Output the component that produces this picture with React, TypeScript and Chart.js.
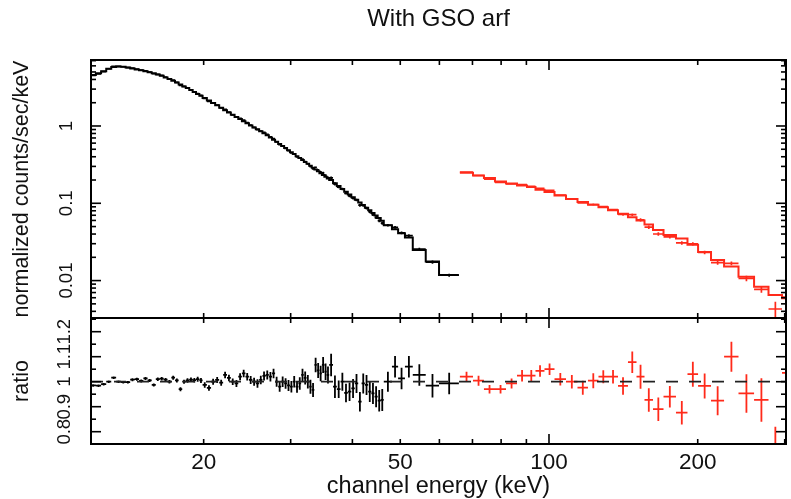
import React, { useEffect, useRef } from 'react';
import { Chart, registerables } from 'chart.js';

Chart.register(...registerables);

const FONT = '"Liberation Sans", Arial, Helvetica, sans-serif';
const INK = '#111111';
const BLACK = '#000000';
const RED = '#ff2a1a';

// ---- axes ----
const xMin = 11.83;
const xMax = 301.8;
const xTickValues = [20, 50, 100, 200];
const xTickLabels = ['20', '50', '100', '200'];

const countsMin = 0.00328;
const countsMax = 7.14;
const countsTickValues = [0.01, 0.1, 1];
const countsTickLabels = ['0.01', '0.1', '1'];

const ratioMin = 0.7508;
const ratioMax = 1.2548;
const ratioTickValues = [0.8, 0.9, 1, 1.1, 1.2];
const ratioTickLabels = ['0.8', '0.9', '1', '1.1', '1.2'];

// ---- black group (low-energy detector) : bin edges in keV ----
const blackEdges = [
  11.8, 12.1, 12.4, 12.7, 13.0, 13.3, 13.6, 13.9, 14.2, 14.5, 14.8, 15.1, 15.4, 15.7,
  16.0, 16.3, 16.6, 16.9, 17.2, 17.5, 17.8, 18.1, 18.4, 18.7, 19.0, 19.3, 19.6, 19.9,
  20.3, 20.7, 21.1, 21.5, 21.9, 22.3, 22.7, 23.1, 23.5, 23.9, 24.3, 24.7, 25.1, 25.5,
  25.9, 26.3, 26.7, 27.1, 27.5, 27.9, 28.3, 28.7, 29.1, 29.5, 29.9, 30.3, 30.7, 31.1,
  31.5, 31.9, 32.3, 32.7, 33.1, 33.5, 33.9, 34.3, 34.7, 35.1, 35.5, 35.9,
  36.55, 37.2, 37.85, 38.5, 39.15, 39.8, 40.45, 41.1, 41.75, 42.4, 43.05, 43.7, 44.35,
  45.0, 45.65, 46.3,
  48.1, 49.5, 51.1, 53.0, 56.3, 59.9, 65.7,
];
const blackModel = [
  4.57, 4.8, 5.1, 5.5, 5.8, 5.9, 5.85, 5.7, 5.55, 5.4, 5.25, 5.1, 4.95, 4.8, 4.62, 4.45,
  4.25, 4.05, 3.85, 3.65, 3.45, 3.25, 3.1, 2.92, 2.75, 2.6, 2.47,
  2.31, 2.14, 1.99, 1.85, 1.72, 1.6, 1.49, 1.395, 1.308, 1.227, 1.152, 1.083, 1.018, 0.959,
  0.905, 0.854, 0.806, 0.759, 0.71, 0.666, 0.624, 0.585, 0.551, 0.518, 0.487, 0.459, 0.433,
  0.407, 0.385, 0.363, 0.342, 0.324, 0.306, 0.289, 0.273, 0.259, 0.245, 0.232, 0.221, 0.2096,
  0.1995, 0.182, 0.167, 0.1535, 0.141, 0.13, 0.12, 0.111, 0.1026, 0.0948, 0.0877, 0.0811,
  0.075, 0.0695, 0.0644, 0.0596,
  0.052, 0.046, 0.041, 0.036, 0.0249, 0.0176, 0.0118,
];
const blackRatio = [
  0.985, 0.984, 0.99, 1.0, 1.016, 1.0, 0.998, 0.998, 1.008, 1.01, 1.003, 1.013, 1.005, 0.987,
  1.01, 1.012, 1.008, 1.0, 1.016, 1.005, 0.97, 1.0, 1.005, 1.008, 1.006, 1.01, 1.005,
  0.987, 0.975, 1.0, 1.007, 0.996, 1.027, 1.015, 1.0, 0.993, 1.02, 1.033, 1.02, 1.007, 1.0,
  0.993, 1.007, 1.023, 1.027, 1.02, 1.033, 1.0, 0.98, 1.0, 0.993, 0.985, 0.98, 1.0, 0.98,
  0.993, 1.027, 1.015, 1.0, 0.98, 0.967, 1.067, 1.045, 1.033, 1.067, 1.04, 1.027,
  1.067, 0.98, 0.97, 1.0, 0.955, 0.96, 0.973, 0.993, 0.92, 0.993, 0.987, 0.96, 0.953, 0.94,
  0.924, 0.927,
  1.0, 1.06, 1.013, 1.06, 1.027, 0.984, 0.993,
];
const blackRatioErr = [
  0.005, 0.005, 0.005, 0.005, 0.005, 0.005, 0.005, 0.005, 0.006, 0.006, 0.006, 0.006, 0.006,
  0.006, 0.007, 0.007, 0.007, 0.007, 0.008, 0.008, 0.008, 0.008, 0.009, 0.009, 0.009, 0.01, 0.01,
  0.011, 0.011, 0.012, 0.012, 0.012, 0.013, 0.013, 0.013, 0.014, 0.014, 0.015, 0.015, 0.016,
  0.016, 0.017, 0.017, 0.018, 0.018, 0.019, 0.019, 0.02, 0.02, 0.021, 0.021, 0.022, 0.023,
  0.023, 0.024, 0.025, 0.025, 0.026, 0.027, 0.028, 0.028, 0.029, 0.03, 0.031, 0.032, 0.033, 0.034,
  0.045, 0.045, 0.035, 0.036, 0.037, 0.037, 0.038, 0.038, 0.039, 0.04, 0.04, 0.041, 0.042,
  0.042, 0.043, 0.044,
  0.04, 0.043, 0.043, 0.043, 0.043, 0.047, 0.043,
];

// ---- red group (GSO) : bin edges in keV ----
const redEdges = [
  66.01, 70.17, 73.85, 77.74, 81.84, 86.15, 90.26, 93.9, 97.92, 102.6, 108.25, 114.21,
  119.92, 125.94, 131.64, 137.92, 144.49, 150.36, 156.07, 162.38, 170.53, 180.72, 190.68,
  200.33, 212.79, 226.14, 241.87, 260.07, 278.17, 296.24, 310.37,
];
const redModel = [
  0.249, 0.228, 0.212, 0.192, 0.18, 0.17, 0.162, 0.15, 0.14, 0.126, 0.114, 0.104, 0.096,
  0.089, 0.081, 0.073, 0.066, 0.06, 0.053, 0.045, 0.039, 0.035, 0.029, 0.0235, 0.0185,
  0.0152, 0.0112, 0.0083, 0.0065, 0.0059,
];
const redRatio = [
  1.02, 1.004, 0.97, 0.97, 0.993, 1.024, 1.024, 1.043, 1.05, 1.01, 1.0, 0.976, 1.004, 1.02,
  1.02, 0.983, 1.078, 1.02, 0.927, 0.89, 0.94, 0.876, 1.03, 0.983, 0.924, 1.1, 0.953, 0.927,
  0.66, 1.035,
];
const redRatioErr = [
  0.02, 0.02, 0.017, 0.017, 0.02, 0.023, 0.023, 0.023, 0.023, 0.025, 0.027, 0.028, 0.03,
  0.026, 0.027, 0.035, 0.043, 0.048, 0.047, 0.047, 0.043, 0.047, 0.05, 0.05, 0.058, 0.06,
  0.077, 0.087, 0.16, 0.163,
];

type Pt = { x: number; y: number | null };

function stepLine(edges: number[], values: number[]): Pt[] {
  const pts: Pt[] = [];
  values.forEach((v, i) => {
    pts.push({ x: edges[i], y: v }, { x: edges[i + 1], y: v });
  });
  return pts;
}

function crosses(edges: number[], values: number[], errs: number[]): Pt[] {
  const pts: Pt[] = [];
  values.forEach((v, i) => {
    const lo = edges[i];
    const hi = edges[i + 1];
    const mid = (lo + hi) / 2;
    pts.push({ x: lo, y: v }, { x: hi, y: v }, { x: hi, y: null });
    pts.push({ x: mid, y: v - errs[i] }, { x: mid, y: v + errs[i] }, { x: mid, y: null });
  });
  return pts;
}

function lineDs(data: Pt[], color: string, width: number, dash: number[] = []) {
  return {
    data,
    borderColor: color,
    backgroundColor: color,
    borderWidth: width,
    borderDash: dash,
    pointRadius: 0,
    pointHoverRadius: 0,
    tension: 0,
    fill: false,
    spanGaps: false,
    borderCapStyle: 'butt' as const,
    borderJoinStyle: 'miter' as const,
  };
}

function logTicks(min: number, max: number) {
  const out: { v: number; major: boolean }[] = [];
  for (let e = -4; e <= 3; e++) {
    const d = Math.pow(10, e);
    for (let m = 1; m <= 9; m++) {
      const v = m * d;
      if (v >= min && v <= max) out.push({ v, major: m === 1 });
    }
  }
  return out;
}

function linTicks(min: number, max: number) {
  const out: { v: number; major: boolean }[] = [];
  for (let k = 0; k <= 40; k++) {
    const v = 0.5 + k * 0.05;
    if (v >= min && v <= max) {
      const major = Math.abs(v * 10 - Math.round(v * 10)) < 1e-6;
      out.push({ v, major });
    }
  }
  return out;
}

const framePlugin = {
  id: 'xspecFrame',
  afterDatasetsDraw(chart: any) {
    const { ctx, chartArea: a, scales } = chart;
    const xs = scales.x;
    const ys = scales.y;
    ctx.save();
    ctx.strokeStyle = BLACK;
    ctx.lineWidth = 1.6;
    const seg = (x1: number, y1: number, x2: number, y2: number) => {
      ctx.beginPath();
      ctx.moveTo(x1, y1);
      ctx.lineTo(x2, y2);
      ctx.stroke();
    };
    logTicks(xs.min, xs.max).forEach(({ v, major }) => {
      const px = xs.getPixelForValue(v);
      const len = major ? 10 : 5;
      seg(px, a.bottom, px, a.bottom - len);
      seg(px, a.top, px, a.top + len);
    });
    const yt = ys.type === 'logarithmic' ? logTicks(ys.min, ys.max) : linTicks(ys.min, ys.max);
    yt.forEach(({ v, major }) => {
      const py = ys.getPixelForValue(v);
      const len = major ? 10 : 5;
      seg(a.left, py, a.left + len, py);
      seg(a.right, py, a.right - len, py);
    });
    ctx.lineWidth = 2;
    ctx.strokeRect(a.left, a.top, a.right - a.left, a.bottom - a.top);
    ctx.restore();
  },
};

export default function App() {
  const topRef = useRef<HTMLCanvasElement>(null);
  const botRef = useRef<HTMLCanvasElement>(null);

  useEffect(() => {
    document.body.style.margin = '0';

    const blackData = blackModel.map((m, i) => m * blackRatio[i]);
    const blackDataErr = blackModel.map((m, i) => m * blackRatioErr[i]);
    const redData = redModel.map((m, i) => m * redRatio[i]);
    const redDataErr = redModel.map((m, i) => m * redRatioErr[i]);

    const yAxisCommon = (labels: string[], values: number[], pad: number, title: string) => ({
      position: 'left' as const,
      grid: { display: false, drawTicks: false },
      border: { display: false },
      afterBuildTicks: (s: any) => {
        s.ticks = values.map((v) => ({ value: v }));
      },
      afterFit: (s: any) => {
        s.width = 91;
        s.paddingTop = 0;
        s.paddingBottom = 0;
      },
      ticks: {
        callback: (_v: any, i: number) => labels[i],
        minRotation: 90,
        maxRotation: 90,
        crossAlign: 'center' as const,
        padding: pad,
        autoSkip: false,
        color: INK,
        font: { family: FONT, size: 18.5 },
      },
      title: {
        display: true,
        text: title,
        color: INK,
        font: { family: FONT, size: 21.5, lineHeight: 1 },
        padding: { top: 11, bottom: 0 },
      },
    });

    const top = new Chart(topRef.current as HTMLCanvasElement, {
      type: 'line',
      data: {
        datasets: [
          lineDs(stepLine(blackEdges, blackModel), BLACK, 2),
          lineDs(crosses(blackEdges, blackData, blackDataErr), BLACK, 1.7),
          lineDs(stepLine(redEdges, redModel), RED, 2),
          lineDs(crosses(redEdges, redData, redDataErr), RED, 1.7),
        ] as any,
      },
      options: {
        animation: false,
        responsive: false,
        events: [],
        layout: { padding: { left: 0, right: 5, top: 0, bottom: 0 }, autoPadding: false },
        plugins: {
          legend: { display: false },
          tooltip: { enabled: false },
          title: {
            display: true,
            text: 'With GSO arf',
            fullSize: false,
            color: INK,
            font: { family: FONT, size: 24, weight: 'normal', lineHeight: 1.2 },
            padding: { top: 5, bottom: 26.2 },
          },
        },
        scales: {
          x: { type: 'logarithmic', min: xMin, max: xMax, display: false },
          y: {
            type: 'logarithmic',
            min: countsMin,
            max: countsMax,
            ...yAxisCommon(countsTickLabels, countsTickValues, 6.5, 'normalized counts/sec/keV'),
          },
        },
      } as any,
      plugins: [framePlugin],
    });

    const bot = new Chart(botRef.current as HTMLCanvasElement, {
      type: 'line',
      data: {
        datasets: [
          lineDs([{ x: xMin, y: 1 }, { x: xMax, y: 1 }], '#222222', 1.8, [12, 11]),
          lineDs(crosses(blackEdges, blackRatio, blackRatioErr), BLACK, 1.8),
          lineDs(crosses(redEdges, redRatio, redRatioErr), RED, 1.8),
        ] as any,
      },
      options: {
        animation: false,
        responsive: false,
        events: [],
        layout: { padding: { left: 0, right: 5, top: 0, bottom: 0 }, autoPadding: false },
        plugins: {
          legend: { display: false },
          tooltip: { enabled: false },
          title: { display: false },
        },
        scales: {
          x: {
            type: 'logarithmic',
            min: xMin,
            max: xMax,
            position: 'bottom',
            grid: { display: false, drawTicks: false },
            border: { display: false },
            afterBuildTicks: (s: any) => {
              s.ticks = xTickValues.map((v) => ({ value: v }));
            },
            afterFit: (s: any) => {
              s.height = 55;
              s.paddingLeft = 0;
              s.paddingRight = 0;
            },
            ticks: {
              callback: (_v: any, i: number) => xTickLabels[i],
              maxRotation: 0,
              minRotation: 0,
              autoSkip: false,
              padding: 5,
              color: INK,
              font: { family: FONT, size: 22.5 },
            },
            title: {
              display: true,
              text: 'channel energy (keV)',
              color: INK,
              font: { family: FONT, size: 23.5, lineHeight: 1 },
              padding: { top: 0, bottom: 0.5 },
            },
          },
          y: {
            type: 'linear',
            min: ratioMin,
            max: ratioMax,
            ...yAxisCommon(ratioTickLabels, ratioTickValues, 13.5, 'ratio'),
          },
        },
      } as any,
      plugins: [framePlugin],
    });

    return () => {
      top.destroy();
      bot.destroy();
    };
  }, []);

  return (
    <div style={{ width: 791, height: 499, background: '#ffffff' }}>
      <canvas ref={topRef} width={791} height={318} style={{ display: 'block' }} />
      <canvas ref={botRef} width={791} height={181} style={{ display: 'block' }} />
    </div>
  );
}
